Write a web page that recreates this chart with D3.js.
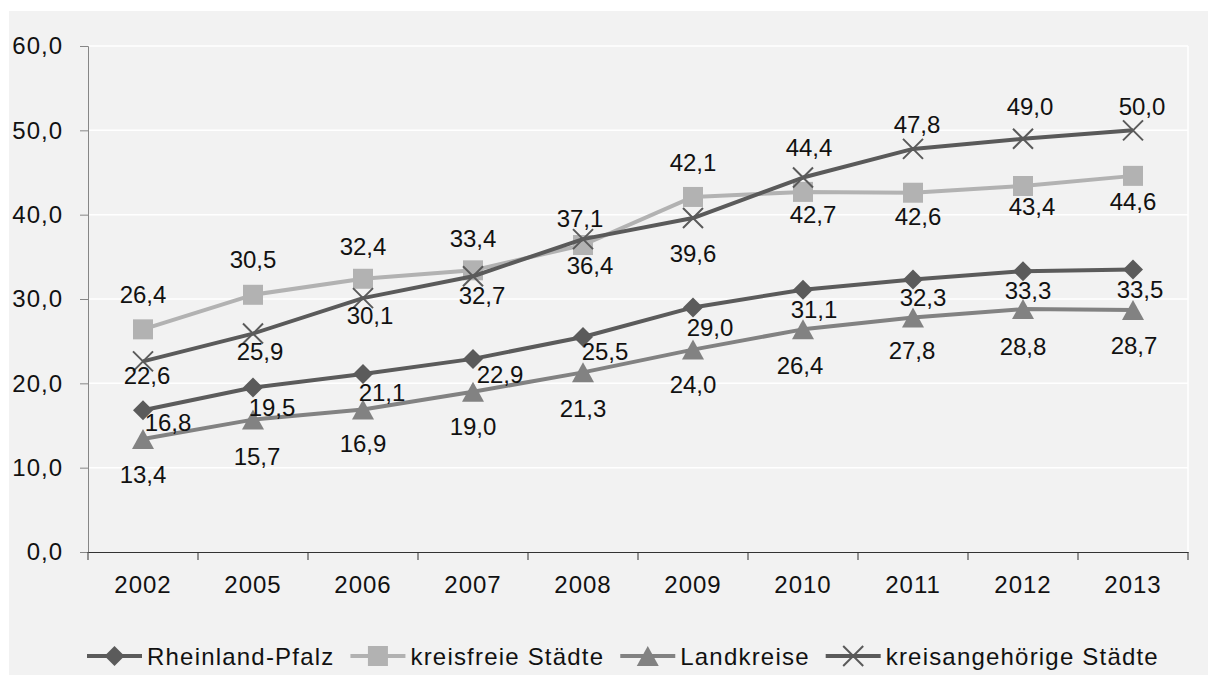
<!DOCTYPE html>
<html>
<head>
<meta charset="utf-8">
<script src="https://cdn.jsdelivr.net/npm/d3@7"></script>
<style>
  body { margin: 0; background: #fff; }
  svg text { font-family: "Liberation Sans", Arial, sans-serif; fill: #111; }
</style>
</head>
<body>
<div id="chart"></div>
<script>
const years = ["2002", "2005", "2006", "2007", "2008", "2009", "2010", "2011", "2012", "2013"]
const yTicks = [0, 10, 20, 30, 40, 50, 60]

const rheinlandPfalz = [16.8, 19.5, 21.1, 22.9, 25.5, 29.0, 31.1, 32.3, 33.3, 33.5]
const kreisfreieStaedte = [26.4, 30.5, 32.4, 33.4, 36.4, 42.1, 42.7, 42.6, 43.4, 44.6]
const landkreise = [13.4, 15.7, 16.9, 19.0, 21.3, 24.0, 26.4, 27.8, 28.8, 28.7]
const kreisangehoerige = [22.6, 25.9, 30.1, 32.7, 37.1, 39.6, 44.4, 47.8, 49.0, 50.0]

// label offsets from the marker (dx, dy), kept apart from the values
const offRP = [[25,12],[19,20],[19,18],[27,16],[22,15],[17,20],[11,20],[10,18],[5,19],[7,20]]
const offKF = [[0,-35],[0,-35],[0,-32],[0,-32],[7,20],[0,-34],[10,23],[5,24],[9,21],[0,26]]
const offLK = [[0,36],[4,37],[0,34],[0,35],[0,36],[0,35],[-3,36],[-1,33],[0,37],[1,36]]
const offKA = [[4,14],[7,18],[7,17],[9,19],[-3,-21],[0,35],[6,-30],[4,-24],[7,-32],[9,-24]]

const series = [
    {name: "Rheinland-Pfalz", values: rheinlandPfalz, off: offRP, color: "#5b5b5b", marker: "diamond"},
    {name: "kreisfreie Städte", values: kreisfreieStaedte, off: offKF, color: "#b2b2b2", marker: "square"},
    {name: "Landkreise", values: landkreise, off: offLK, color: "#828282", marker: "triangle"},
    {name: "kreisangehörige Städte", values: kreisangehoerige, off: offKA, color: "#5a5a5a", marker: "cross"}
]

const W = 1209, H = 677
const M = {TOP: 46, LEFT: 88, RIGHT: 1188, BOTTOM: 552}
const fmt = v => d3.format(".1f")(v).replace(".", ",")

const svg = d3.select("#chart").append("svg")
    .attr("width", W).attr("height", H)

// chart background
svg.append("rect")
    .attr("x", 9).attr("y", 11).attr("width", 1199).attr("height", 664)
    .attr("fill", "#f2f2f2")

const x = d3.scaleBand().domain(years).range([M.LEFT, M.RIGHT])
const y = d3.scaleLinear().domain([0, 60]).range([M.BOTTOM, M.TOP])
const cx = d => x(d) + x.bandwidth() / 2

// gridlines
svg.append("g").selectAll("line")
    .data(yTicks.filter(t => t > 0))
    .join("line")
    .attr("x1", M.LEFT).attr("x2", M.RIGHT)
    .attr("y1", d => y(d)).attr("y2", d => y(d))
    .attr("stroke", "#fff").attr("stroke-width", 1.5)

svg.append("line")
    .attr("x1", M.RIGHT).attr("x2", M.RIGHT)
    .attr("y1", M.TOP).attr("y2", M.BOTTOM)
    .attr("stroke", "#fff").attr("stroke-width", 1.5)

// y axis
const yAxis = svg.append("g")
    .attr("transform", `translate(${M.LEFT},0)`)
    .call(d3.axisLeft(y).tickValues(yTicks).tickFormat(fmt).tickSizeOuter(0).tickSize(8).tickPadding(17))
yAxis.select(".domain").attr("stroke", "#868686")
yAxis.selectAll(".tick line").attr("stroke", "#868686")
yAxis.selectAll(".tick text").style("font-size", "24px").style("letter-spacing", "1px")

// x axis
const xAxis = svg.append("g")
    .attr("transform", `translate(0,${M.BOTTOM})`)
    .call(d3.axisBottom(x).tickSize(0).tickPadding(24))
xAxis.select(".domain").attr("stroke", "#333").attr("stroke-width", 1.2)
xAxis.selectAll(".tick text").style("font-size", "24px").style("letter-spacing", "1px")
xAxis.selectAll(".sep")
    .data(d3.range(years.length + 1))
    .join("line")
    .attr("x1", i => M.LEFT + i * x.bandwidth()).attr("x2", i => M.LEFT + i * x.bandwidth())
    .attr("y1", 0).attr("y2", 8)
    .attr("stroke", "#333")

function drawMarker(g, type, color) {
    if (type === "diamond") {
        g.append("path").attr("d", "M0,-10L10,0L0,10L-10,0Z").attr("fill", color)
    } else if (type === "square") {
        g.append("rect").attr("x", -10).attr("y", -10).attr("width", 20).attr("height", 20).attr("fill", color)
    } else if (type === "triangle") {
        g.append("path").attr("d", "M0,-10L11,10L-11,10Z").attr("fill", color)
    } else {
        g.append("path").attr("d", "M-10,-10L10,10M-10,10L10,-10")
            .attr("stroke", color).attr("stroke-width", 2).attr("fill", "none")
    }
}

const line = d3.line().x((d, i) => cx(years[i])).y(d => y(d))

series.forEach(s => {
    svg.append("path")
        .datum(s.values)
        .attr("d", line)
        .attr("fill", "none")
        .attr("stroke", s.color)
        .attr("stroke-width", 4)
        .attr("stroke-linejoin", "round")

    s.values.forEach((v, i) => {
        const g = svg.append("g").attr("transform", `translate(${cx(years[i])},${y(v)})`)
        drawMarker(g, s.marker, s.color)
    })
})

// data labels
series.forEach(s => {
    svg.append("g").selectAll("text")
        .data(s.values)
        .join("text")
        .attr("x", (d, i) => cx(years[i]) + s.off[i][0])
        .attr("y", (d, i) => y(d) + s.off[i][1])
        .attr("text-anchor", "middle")
        .attr("dominant-baseline", "central")
        .style("font-size", "24px")
        .text(fmt)
})

// legend
const legend = svg.append("g").attr("transform", "translate(87,656)")
let lx = 0
series.forEach(s => {
    const item = legend.append("g").attr("transform", `translate(${lx},0)`)
    item.append("line").attr("x1", 0).attr("x2", 55).attr("y1", 0).attr("y2", 0)
        .attr("stroke", s.color).attr("stroke-width", 4)
    const mk = item.append("g").attr("transform", "translate(27.5,0)")
    drawMarker(mk, s.marker, s.color)
    const t = item.append("text")
        .attr("x", 60).attr("y", 0)
        .attr("dominant-baseline", "central")
        .style("font-size", "24px")
        .style("letter-spacing", "1.2px")
        .text(s.name)
    lx += 60 + t.node().getComputedTextLength() + 16
})
</script>
</body>
</html>
